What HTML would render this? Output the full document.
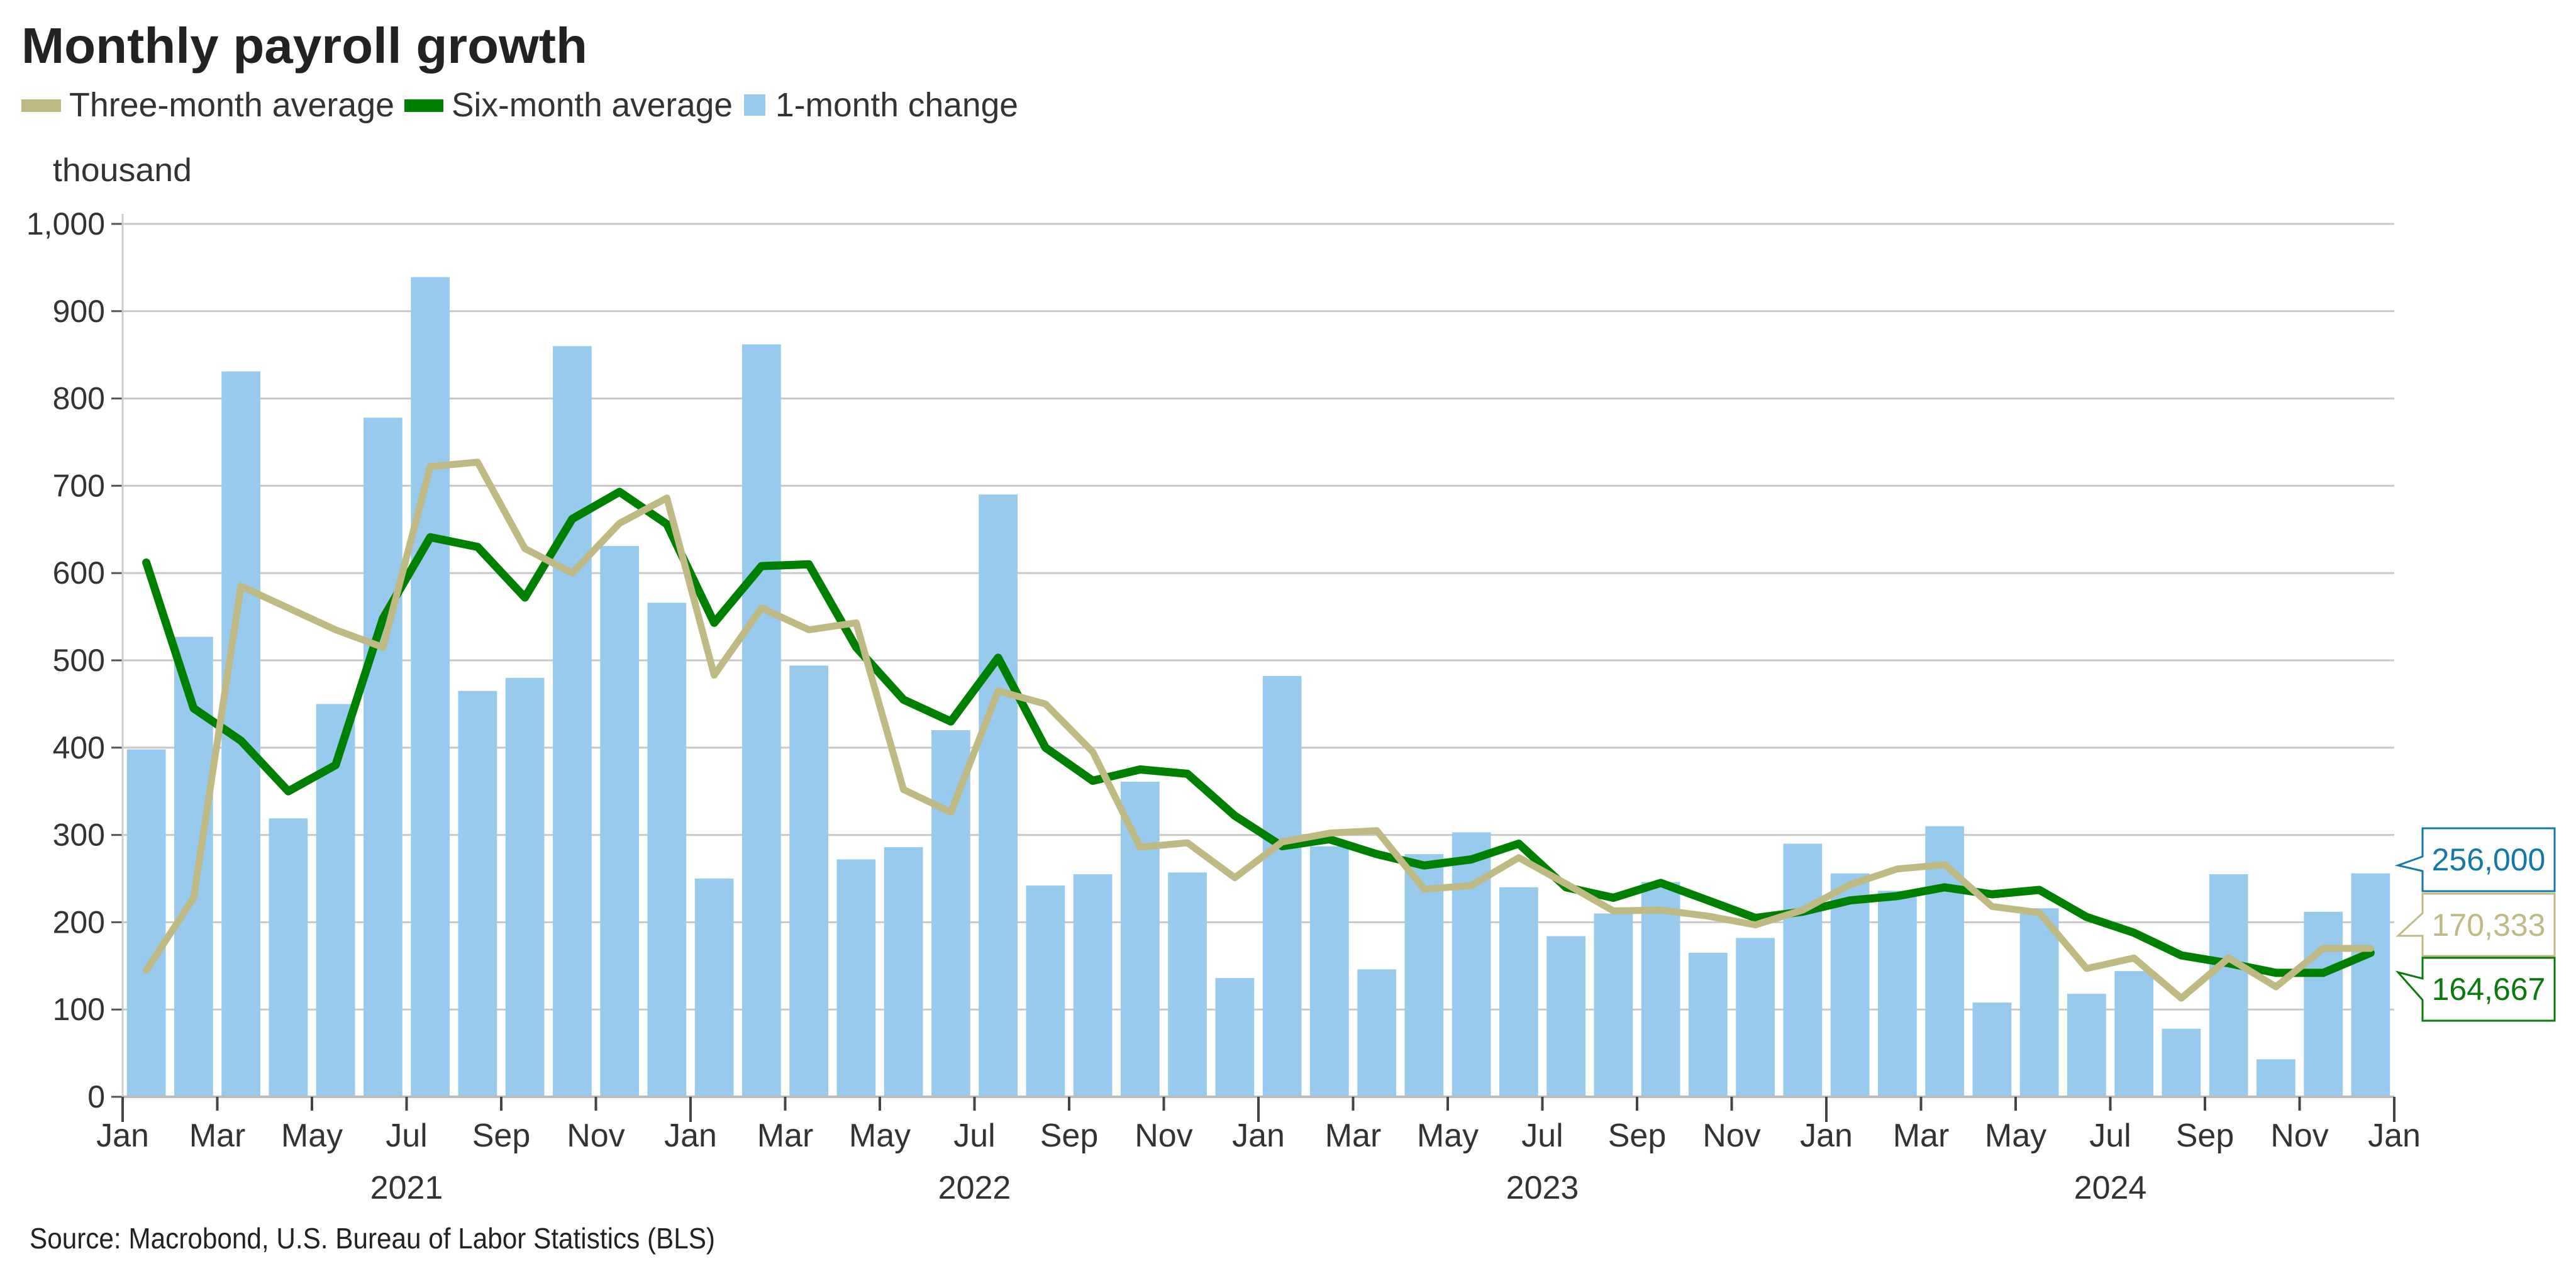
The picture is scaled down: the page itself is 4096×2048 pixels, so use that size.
<!DOCTYPE html>
<html><head><meta charset="utf-8"><style>
html,body{margin:0;padding:0;background:#fff;}
svg{display:block;font-family:"Liberation Sans",sans-serif;}
</style></head><body>
<svg id="chart" width="4096" height="2048" viewBox="0 0 4096 2048" xmlns="http://www.w3.org/2000/svg">
<text x="34" y="100" font-size="80" font-weight="bold" fill="#222" textLength="900" lengthAdjust="spacingAndGlyphs">Monthly payroll growth</text>
<g>
<rect x="34" y="158" width="63" height="20" fill="#BFB984"/>
<text x="110" y="185" font-size="54" fill="#333" textLength="517" lengthAdjust="spacingAndGlyphs">Three-month average</text>
<rect x="643" y="158" width="62" height="20" fill="#008000"/>
<text x="718" y="185" font-size="54" fill="#333" textLength="447" lengthAdjust="spacingAndGlyphs">Six-month average</text>
<rect x="1183" y="150" width="34" height="34" fill="#97CAEC"/>
<text x="1233" y="185" font-size="54" fill="#333" textLength="386" lengthAdjust="spacingAndGlyphs">1-month change</text>
</g>
<text x="84" y="288" font-size="52" fill="#333" textLength="221" lengthAdjust="spacingAndGlyphs">thousand</text>
<g id="grid"></g><g id="bars"></g><g id="lines"></g><g id="axes"></g>
<text x="47" y="1985" font-size="46" fill="#222" textLength="1090" lengthAdjust="spacingAndGlyphs">Source: Macrobond, U.S. Bureau of Labor Statistics (BLS)</text>
<g>
<path d="M3852,1317 H4062 V1417 H3852 V1385 L3813,1376 L3852,1362 Z" fill="#fff" stroke="#1479A8" stroke-width="3"/>
<text x="3957" y="1384" font-size="50" fill="#1479A8" text-anchor="middle">256,000</text>
</g>
<g>
<path d="M3852,1421 H4062 V1520 H3852 V1488 L3813,1488 L3852,1452 Z" fill="#fff" stroke="#BFB984" stroke-width="3"/>
<text x="3957" y="1488" font-size="50" fill="#BFB984" text-anchor="middle">170,333</text>
</g>
<g>
<path d="M3852,1523 H4062 V1623 H3852 V1590 L3813,1546 L3852,1556 Z" fill="#fff" stroke="#0A7A0A" stroke-width="3"/>
<text x="3957" y="1590" font-size="50" fill="#0A7A0A" text-anchor="middle">164,667</text>
</g>
</svg>
<script>
const monthLabels = ["Jan","Mar","May","Jul","Sep","Nov"];
const years = ["2021","2022","2023","2024"];
const yTicks = [0,100,200,300,400,500,600,700,800,900,1000];
const oneMonth = [398,527,831,319,450,778,939,465,480,860,631,566,
 250,862,494,272,286,420,690,242,255,361,257,136,
 482,287,146,278,303,240,184,210,246,165,182,290,
 256,236,310,108,216,118,144,78,255,43,212,256];
const threeMonth = [145,228,585,560,535,515,722,727,628,600,657,686,
 483,560,535,543,352,326,465,450,395,286,291,251,
 292,302,305,238,242,274,244,213,214,207,197,214,
 243,261,266,218,211,147,159,113,159,126,170,170];
const sixMonth = [612,445,408,350,380,548,641,630,572,662,693,656,
 543,608,610,515,455,430,503,400,362,375,370,322,
 287,295,278,265,272,290,240,228,245,225,205,212,
 225,230,240,232,237,206,188,162,153,142,142,165];

const NS="http://www.w3.org/2000/svg";
const X0=195, X1=3807, Y0=1744, Y1=356;
const nM=48, mw=(X1-X0)/nM;
function xPos(i){return X0+i*mw;}
function yPos(v){return Y0-(v/1000)*(Y0-Y1);}
function mk(tag,attrs,parent){const e=document.createElementNS(NS,tag);for(const k in attrs)e.setAttribute(k,attrs[k]);parent.appendChild(e);return e;}
const grid=document.getElementById('grid'),bars=document.getElementById('bars'),lines=document.getElementById('lines'),axes=document.getElementById('axes');
yTicks.forEach(v=>{
  const y=yPos(v);
  if(v>0){const g=mk('line',{x1:X0,x2:X1,y1:y,y2:y,stroke:'#c8c8c8','stroke-width':3},grid);
  
  }
  const tk=mk('line',{x1:X0-18,x2:X0,y1:y,y2:y,stroke:'#555','stroke-width':3},axes);
  
  
  const t=mk('text',{x:X0-28,y:y+17,'font-size':50,fill:'#333','text-anchor':'end'},axes);
  t.textContent=v.toLocaleString('en-US');
  
  
});
oneMonth.forEach((v,i)=>{
  const bw=mw*0.82;
  const r=mk('rect',{x:xPos(i)+(mw-bw)/2,y:yPos(v),width:bw,height:Y0-yPos(v),fill:'#97CAEC'},bars);
  
  
});
function drawLine(arr,color,w,name){
  const pts=arr.map((v,i)=>(xPos(i)+mw/2).toFixed(1)+','+yPos(v).toFixed(1)).join(' ');
  const p=mk('polyline',{points:pts,fill:'none',stroke:color,'stroke-width':w,'stroke-linejoin':'round','stroke-linecap':'round'},lines);
  
  
}
drawLine(sixMonth,'#008000',13,'six-month-average-line');
drawLine(threeMonth,'#BFB984',11,'three-month-average-line');
const ax=mk('line',{x1:X0,x2:X0,y1:340,y2:Y0,stroke:'#ccc','stroke-width':3},axes);


const xa=mk('line',{x1:X0,x2:X1,y1:Y0,y2:Y0,stroke:'#bbb','stroke-width':4},axes);


for(let i=0;i<=nM;i+=2){
  const x=xPos(i), isJan=(i%12===0);
  const tk=mk('line',{x1:x,x2:x,y1:Y0,y2:Y0+(isJan?40:22),stroke:'#444','stroke-width':4},axes);
  
  
  const t=mk('text',{x:x,y:1823,'font-size':52,fill:'#333','text-anchor':'middle'},axes);
  t.textContent=monthLabels[(i/2)%6];
  
  
}
years.forEach((yr,k)=>{
  const t=mk('text',{x:xPos(k*12+6),y:1906,'font-size':52,fill:'#333','text-anchor':'middle'},axes);
  t.textContent=yr;
  
  
});
</script>
</body></html>
